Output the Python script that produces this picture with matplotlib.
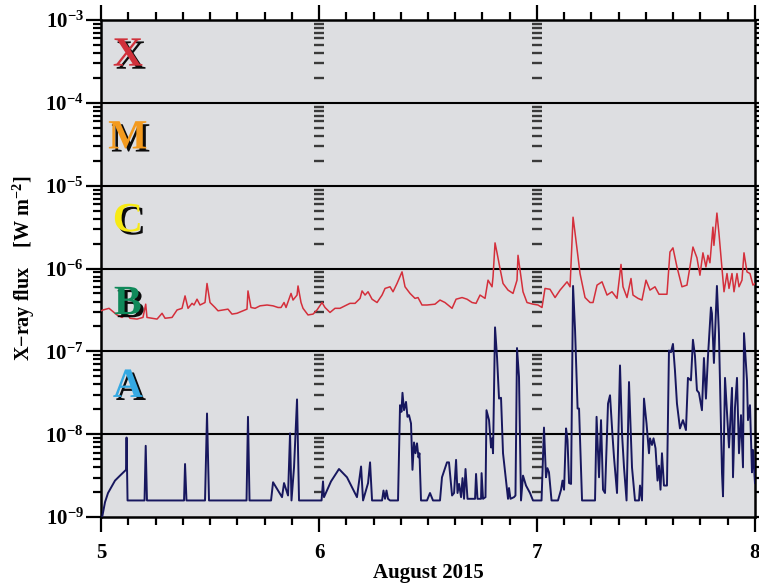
import matplotlib
matplotlib.use('Agg')
import matplotlib.pyplot as plt
import matplotlib.patheffects as pe
import matplotlib.transforms as mtransforms
from matplotlib.ticker import MultipleLocator, LogLocator, FuncFormatter, NullFormatter
import numpy as np

# GOES X-ray flux, 5-8 August 2015
# hours since 2015-08-05 00:00 UT, flux given as log10(W m^-2)
start_day = 5
day_ticks = [5, 6, 7, 8]

long_hours = [
    0.0, 0.22, 0.88, 1.76, 2.31, 2.86, 3.19, 3.96, 4.62, 4.92,
    5.06, 5.62, 6.17, 6.72, 7.05, 7.82, 8.37, 8.92, 9.25, 9.58,
    10.02, 10.24, 10.57, 10.90, 11.45, 11.67, 12.00, 12.55, 12.88, 13.43,
    13.98, 14.42, 14.97, 15.63, 16.07, 16.18, 16.51, 16.96, 17.51, 18.28,
    18.94, 19.49, 19.82, 20.15, 20.37, 20.70, 20.92, 21.14, 21.58, 21.69,
    22.02, 22.24, 22.79, 23.34, 23.78, 24.33, 24.66, 25.21, 25.76, 26.31,
    26.86, 27.41, 27.97, 28.52, 28.74, 29.07, 29.40, 29.84, 30.39, 30.94,
    31.27, 31.82, 32.15, 32.59, 33.14, 33.47, 34.02, 34.57, 34.90, 35.34,
    35.89, 36.77, 37.32, 37.87, 38.65, 39.09, 39.75, 40.30, 40.85, 41.29,
    41.73, 42.28, 42.61, 43.05, 43.16, 43.38, 43.60, 43.93, 44.26, 44.81,
    45.36, 45.80, 45.91, 46.13, 46.46, 46.90, 47.56, 48.11, 48.55, 48.88,
    49.43, 49.99, 50.54, 51.31, 51.64, 51.97, 52.19, 52.74, 53.29, 53.84,
    54.17, 54.61, 55.16, 55.71, 56.26, 56.81, 57.25, 57.47, 57.91, 58.35,
    58.57, 59.12, 59.56, 60.00, 60.44, 60.99, 61.43, 62.31, 62.64, 62.97,
    63.41, 63.96, 64.51, 64.84, 65.17, 65.61, 65.94, 66.27, 66.60, 66.82,
    67.04, 67.37, 67.48, 67.81, 68.03, 68.37, 68.59, 68.92, 69.14, 69.47,
    69.69, 70.02, 70.24, 70.57, 70.79, 71.12, 71.45, 71.78, 72.00]
long_log = [
    -6.51, -6.50, -6.48, -6.56, -6.59, -6.54, -6.60, -6.61, -6.59, -6.43,
    -6.59, -6.60, -6.61, -6.54, -6.60, -6.59, -6.50, -6.48, -6.33, -6.48,
    -6.42, -6.44, -6.37, -6.44, -6.41, -6.18, -6.41, -6.47, -6.51, -6.50,
    -6.49, -6.55, -6.54, -6.51, -6.49, -6.27, -6.47, -6.48, -6.45, -6.44,
    -6.45, -6.47, -6.47, -6.41, -6.47, -6.37, -6.30, -6.38, -6.32, -6.21,
    -6.41, -6.48, -6.56, -6.55, -6.50, -6.41, -6.47, -6.53, -6.48, -6.48,
    -6.45, -6.42, -6.42, -6.36, -6.27, -6.32, -6.28, -6.37, -6.41, -6.32,
    -6.24, -6.22, -6.28, -6.18, -6.04, -6.22, -6.30, -6.36, -6.35, -6.44,
    -6.44, -6.43, -6.38, -6.41, -6.48, -6.37, -6.35, -6.37, -6.41, -6.42,
    -6.32, -6.36, -6.14, -6.22, -6.10, -5.69, -5.81, -6.00, -6.18, -6.26,
    -6.30, -6.14, -5.84, -6.02, -6.28, -6.41, -6.43, -6.44, -6.47, -6.24,
    -6.25, -6.35, -6.26, -6.16, -6.22, -5.38, -5.57, -6.06, -6.35, -6.41,
    -6.41, -6.20, -6.16, -6.32, -6.28, -6.36, -5.95, -6.22, -6.35, -6.12,
    -6.32, -6.36, -6.38, -6.14, -6.26, -6.22, -6.31, -6.31, -5.80, -5.75,
    -5.98, -6.22, -6.20, -5.98, -5.74, -5.87, -6.08, -5.81, -5.98, -5.84,
    -5.93, -5.50, -5.72, -5.33, -5.57, -6.00, -6.28, -6.06, -6.24, -6.06,
    -6.28, -6.06, -6.22, -6.14, -5.81, -6.04, -6.06, -6.20, -6.18]

short_hours = [
    0.11, 0.44, 0.77, 1.54, 2.09, 2.75, 2.81, 2.92, 4.79, 4.92,
    5.06, 9.14, 9.25, 9.41, 11.45, 11.67, 11.89, 16.02, 16.18, 16.35,
    18.72, 18.94, 19.93, 20.15, 20.59, 20.81, 20.97, 21.25, 21.58, 21.80,
    24.28, 24.44, 24.55, 25.32, 26.20, 27.08, 28.18, 28.63, 28.85, 29.40,
    29.62, 29.84, 30.94, 31.10, 31.27, 31.43, 31.60, 31.82, 32.70, 32.92,
    33.08, 33.19, 33.36, 33.58, 33.74, 33.91, 34.13, 34.29, 34.46, 34.62,
    34.79, 34.95, 35.06, 35.23, 35.89, 36.22, 36.55, 37.32, 37.54, 38.09,
    38.31, 38.65, 38.87, 39.09, 39.25, 39.42, 39.64, 39.80, 39.97, 40.13,
    40.35, 41.18, 41.29, 41.45, 41.84, 41.90, 42.06, 42.33, 42.44, 42.72,
    42.94, 43.05, 43.16, 43.38, 43.60, 43.82, 44.04, 44.26, 44.59, 44.81,
    44.92, 45.08, 45.47, 45.63, 45.80, 46.02, 46.24, 46.46, 46.79, 47.23,
    47.56, 48.50, 48.77, 48.99, 49.15, 49.32, 49.60, 50.31, 50.65, 50.81,
    50.98, 51.20, 51.36, 51.53, 51.75, 51.97, 52.19, 52.47, 52.63, 52.96,
    54.39, 54.56, 54.83, 55.05, 55.27, 55.49, 55.82, 56.04, 56.31, 56.48,
    56.81, 57.14, 57.36, 57.58, 57.86, 58.13, 58.46, 58.79, 59.23, 59.34,
    59.56, 59.78, 60.06, 60.33, 60.44, 60.66, 60.83, 61.05, 61.27, 61.43,
    61.60, 61.76, 61.98, 62.31, 62.53, 62.75, 62.97, 63.19, 63.41, 63.74,
    64.07, 64.40, 64.62, 64.95, 65.17, 65.39, 65.61, 65.83, 66.16, 66.38,
    66.60, 66.82, 67.15, 67.26, 67.48, 67.81, 68.03, 68.37, 68.48, 68.70,
    68.92, 69.14, 69.47, 69.58, 69.80, 70.02, 70.24, 70.46, 70.68, 70.79,
    71.12, 71.23, 71.45, 71.67, 71.78, 72.00]
short_log = [
    -9.01, -8.82, -8.71, -8.56, -8.50, -8.43, -8.04, -8.80, -8.80, -8.14,
    -8.80, -8.80, -8.36, -8.80, -8.80, -7.75, -8.80, -8.80, -7.79, -8.80,
    -8.80, -8.58, -8.76, -8.59, -8.74, -7.99, -8.80, -8.40, -7.58, -8.80,
    -8.80, -8.57, -8.76, -8.57, -8.42, -8.52, -8.76, -8.39, -8.80, -8.59,
    -8.34, -8.80, -8.80, -8.68, -8.78, -8.68, -8.78, -8.80, -8.80, -7.65,
    -7.73, -7.50, -7.71, -7.61, -7.79, -7.77, -7.87, -8.43, -8.10, -8.23,
    -8.11, -8.28, -8.23, -8.80, -8.80, -8.71, -8.80, -8.80, -8.52, -8.34,
    -8.34, -8.74, -8.71, -8.31, -8.71, -8.60, -8.76, -8.53, -8.78, -8.42,
    -8.78, -8.78, -8.48, -8.78, -8.78, -8.47, -8.78, -8.76, -7.71, -7.83,
    -8.16, -8.05, -8.23, -6.71, -7.07, -7.57, -7.56, -8.23, -8.56, -8.78,
    -8.65, -8.78, -8.76, -8.74, -6.96, -7.31, -8.80, -8.50, -8.62, -8.71,
    -8.80, -8.80, -7.92, -8.52, -8.41, -8.46, -8.80, -8.80, -8.67, -8.56,
    -8.67, -7.93, -8.07, -8.59, -8.60, -6.21, -6.74, -7.69, -7.69, -8.80,
    -8.80, -7.79, -8.52, -7.83, -8.67, -8.71, -7.63, -7.53, -8.01, -8.28,
    -8.71, -7.17, -7.99, -8.40, -8.80, -7.37, -8.40, -8.80, -8.80, -8.62,
    -8.80, -7.57, -7.87, -8.23, -8.05, -8.13, -8.05, -8.17, -8.56, -8.38,
    -8.67, -8.23, -8.62, -8.62, -6.99, -7.01, -6.91, -7.23, -7.63, -7.93,
    -7.83, -7.95, -7.32, -7.35, -6.86, -7.05, -7.47, -7.50, -7.71, -7.08,
    -7.57, -7.07, -6.47, -6.54, -7.14, -6.21, -6.78, -8.47, -8.75, -7.32,
    -7.75, -8.16, -7.44, -8.52, -7.68, -7.32, -8.23, -7.77, -8.40, -6.78,
    -7.35, -7.83, -7.65, -8.46, -8.19, -8.59]

# flare classes and their lower flux bound
flare_classes = ['X', 'M', 'C', 'B', 'A']
class_floor = [1e-4, 1e-5, 1e-6, 1e-7, 1e-8]
class_colors = ['#d0313b', '#f39a1e', '#f7ea14', '#10895a', '#35a9e2']

plt.rcParams['font.family'] = ['Liberation Serif', 'DejaVu Serif']
plt.rcParams['font.weight'] = 'bold'
plt.rcParams['mathtext.fontset'] = 'custom'
plt.rcParams['mathtext.rm'] = 'Liberation Serif:bold'
plt.rcParams['mathtext.bf'] = 'Liberation Serif:bold'
plt.rcParams['mathtext.it'] = 'Liberation Serif:bold:italic'
plt.rcParams['mathtext.default'] = 'bf'

fig = plt.figure(figsize=(7.59, 5.86), dpi=100)
ax = fig.add_axes([0.1331, 0.1177, 0.8616, 0.848])
ax.set_facecolor('#dddee1')

ax.set_yscale('log')
ax.set_ylim(1e-9, 1e-3)
ax.set_xlim(day_ticks[0], day_ticks[-1])

# decade lines
for lev in class_floor:
    ax.axhline(lev, color='black', lw=1.5, zorder=1)

# minor tick columns at day boundaries
inner_days = day_ticks[1:-1]
subs = [m * 10.0**d for d in range(-9, -3) for m in range(2, 10)]
for d in inner_days:
    ax.plot([d] * len(subs), subs, ls='none', marker='_', ms=7, mew=1.7,
            color='#3a3a3a', zorder=2)

t_long = start_day + np.array(long_hours) / 24.0
t_short = start_day + np.array(short_hours) / 24.0
ax.plot(t_long, 10.0**np.array(long_log), color='#d42f3b', lw=1.1, zorder=3)
ax.plot(t_short, 10.0**np.array(short_log), color='#17175e', lw=1.4, zorder=4)

# class letters
trans = mtransforms.blended_transform_factory(ax.transAxes, ax.transData)
for name, lev, col in zip(flare_classes, class_floor, class_colors):
    ax.text(0.041, lev * 10**0.45, name, transform=trans, ha='center', va='baseline',
            fontsize=30, fontweight='bold', color=col, zorder=5,
            path_effects=[pe.SimplePatchShadow(offset=(2.2, -2.2), shadow_rgbFace='black', alpha=0.95),
                          pe.Normal()])

ax.xaxis.set_major_locator(MultipleLocator(1))
ax.xaxis.set_minor_locator(MultipleLocator(0.125))
ax.xaxis.set_major_formatter(FuncFormatter(lambda v, p: '%d' % round(v)))
ax.xaxis.set_minor_formatter(NullFormatter())
ax.yaxis.set_major_locator(LogLocator(base=10, numticks=10))
ax.yaxis.set_minor_locator(LogLocator(base=10, subs=np.arange(2, 10), numticks=20))
ax.yaxis.set_major_formatter(FuncFormatter(lambda v, p: r'$\mathbf{10^{%d}}$' % round(np.log10(v))))
ax.yaxis.set_minor_formatter(NullFormatter())

ax.tick_params(which='both', direction='out', top=True, right=True, width=1.6, color='black')
ax.tick_params(which='major', length=11)
ax.tick_params(which='minor', length=5.5)
ax.tick_params(axis='y', which='major', labelsize=15, pad=1.5)
ax.tick_params(axis='x', which='major', labelsize=15, pad=8)

for s in ax.spines.values():
    s.set_linewidth(1.8)

ax.set_xlabel('August 2015', fontsize=15, fontweight='bold', labelpad=0)
ax.set_ylabel('X\u2212ray flux    [W m$^{-2}$]', fontsize=14.5, fontweight='bold', labelpad=6)

fig.savefig('out.png', dpi=100)
